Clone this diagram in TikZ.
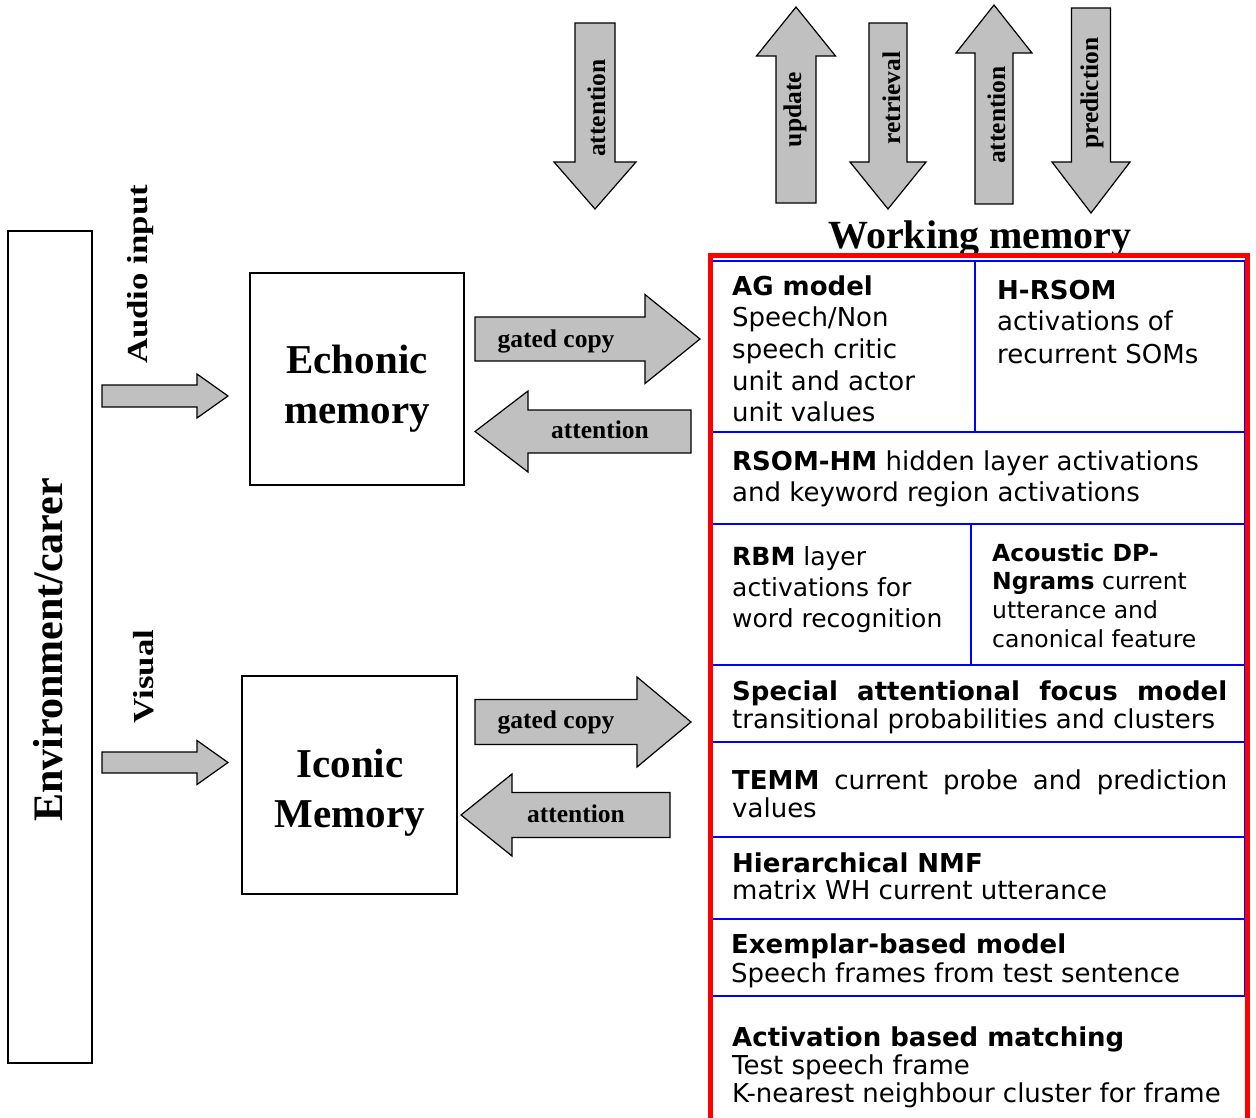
\documentclass[tikz,border=0pt]{standalone}
\usepackage{fontspec}
\usepackage{graphicx}
\setmainfont{Liberation Serif}
\newfontfamily\vd{DejaVu Sans}
\definecolor{arrowgray}{RGB}{192,192,192}
\definecolor{wmred}{RGB}{255,0,0}
\definecolor{wmblue}{RGB}{0,0,255}
\newcommand\fsz[2]{\fontsize{#1}{#2}\selectfont}
% lines of a working-memory entry: size, line distance, rows
\newcommand\wmlines[3]{\fsz{#1}{#2}\begin{tabular}[t]{@{}l@{}}#3\end{tabular}}
% block arrows: tail, head base, tip, centre line, shaft half width, head half width
\newcommand\harrow[6]{\draw[fat] (#1,#4-#5) -- (#2,#4-#5) -- (#2,#4-#6) -- (#3,#4) -- (#2,#4+#6) -- (#2,#4+#5) -- (#1,#4+#5) -- cycle;}
\newcommand\varrow[6]{\draw[fat] (#4-#5,#1) -- (#4-#5,#2) -- (#4-#6,#2) -- (#4,#3) -- (#4+#6,#2) -- (#4+#5,#2) -- (#4+#5,#1) -- cycle;}
\begin{document}
\begin{tikzpicture}[x=1pt,y=-1pt,
  fat/.style={draw=black, line width=1.2pt, fill=arrowgray, line join=miter},
  box/.style={draw=black, line width=1.5pt, inner sep=0pt},
  big/.style={font=\bfseries\fsz{41}{50}, inner sep=0pt, anchor=base},
  hlbl/.style={font=\bfseries\fsz{25.5}{30}, inner sep=0pt, anchor=base},
  vlbl/.style={hlbl, rotate=90},
  side/.style={font=\bfseries\fsz{29}{34}, inner sep=0pt, anchor=base, rotate=90},
  row/.style={draw=wmblue, line width=2pt},
  wm/.style={font=\vd, inner sep=0pt, anchor=base west}]
\useasboundingbox (0,0) rectangle (1256,1118);
\fill[white] (0,0) rectangle (1256,1118);

% environment column and sensory stores
\node[box, minimum width=84pt, minimum height=832pt] (env) at (50,647) {};
\node[font=\bfseries\fsz{42}{50}, inner sep=0pt, anchor=base, rotate=90] (envtxt) at (62,650) {Environment/carer};
\node[box, minimum width=214pt, minimum height=212pt] (echo) at (357,379) {};
\node[big] (echotxt) at (357,373) {\begin{tabular}[t]{@{}c@{}}Echonic\\memory\end{tabular}};
\node[box, minimum width=215pt, minimum height=218pt] (icon) at (349.5,785) {};
\node[big] (icontxt) at (350,777) {\begin{tabular}[t]{@{}c@{}}Iconic\\Memory\end{tabular}};

% inputs from the environment
\harrow{102}{197}{228}{396}{11}{22}
\node[side] (audio) at (147,274.5) {\scalebox{1.2}[1]{Audio input}};
\harrow{102}{197}{228}{762.5}{10.5}{22}
\node[side] (visual) at (153,676.5) {\scalebox{1.2}[1]{Visual}};

% exchanges with working memory
\harrow{475}{645}{700}{339}{22}{44.5}
\node[hlbl] (gc1) at (556,347) {gated copy};
\harrow{691}{528}{475}{431.5}{21.5}{40.5}
\node[hlbl] (at1) at (600,438) {attention};
\harrow{475}{637}{691}{722}{22.5}{45}
\node[hlbl] (gc2) at (556,728) {gated copy};
\harrow{670}{512}{461}{815}{22.5}{41}
\node[hlbl] (at2) at (576,822) {attention};

% top-down control arrows
\varrow{23}{162}{209}{595}{20}{41}
\node[vlbl] (va1) at (605,108) {attention};
\varrow{203}{56}{7}{796}{20}{39.5}
\node[vlbl] (vup) at (801,109.5) {update};
\varrow{23}{162}{209}{888}{19}{38}
\node[vlbl] (vre) at (900,98) {retrieval};
\varrow{204}{53}{5}{994}{19}{38}
\node[vlbl] (va2) at (1005,115) {attention};
\varrow{8}{162}{213}{1091}{19.5}{39}
\node[vlbl] (vpr) at (1098,93) {prediction};

% working memory
\node[font=\bfseries\fsz{40}{48}, inner sep=0pt, anchor=base] (wmtitle) at (980,249) {Working memory};
\draw[row] (712,261) rectangle (1245,432);
\draw[row] (975,261) -- (975,432);
\draw[row] (712,432) rectangle (1245,524);
\draw[row] (712,524) rectangle (1245,665);
\draw[row] (971,524) -- (971,665);
\draw[row] (712,665) rectangle (1245,742);
\draw[row] (712,742) rectangle (1245,837);
\draw[row] (712,837) rectangle (1245,919);
\draw[row] (712,919) rectangle (1245,996);
\draw[row] (712,996) -- (1245,996);

\node[wm] (ag) at (732,295) {\wmlines{26}{31.75}{\textbf{AG model}\\Speech/Non\\speech critic\\unit and actor\\unit values}};
\node[wm] (hrsom) at (997,299) {\wmlines{26}{32}{\textbf{H-RSOM}\\activations of\\recurrent SOMs}};
\node[wm] (rsomhm) at (732,470) {\wmlines{26}{31}{\textbf{RSOM-HM} hidden layer activations\\and keyword region activations}};
\node[wm] (rbm) at (732,565) {\wmlines{25}{31}{\textbf{RBM} layer\\activations for\\word recognition}};
\node[wm] (dp) at (992,561) {\wmlines{23.5}{28.7}{\textbf{Acoustic DP-}\\\textbf{Ngrams} current\\utterance and\\canonical feature}};
\node[wm] (saf) at (732,700) {\wmlines{26}{28}{\makebox[495pt][s]{\textbf{Special attentional focus model}}\\transitional probabilities and clusters}};
\node[wm] (temm) at (732,789) {\wmlines{26}{28}{\makebox[495pt][s]{\textbf{TEMM} current probe and prediction}\\values}};
\node[wm] (nmf) at (732,872) {\wmlines{26}{27}{\textbf{Hierarchical NMF}\\matrix WH current utterance}};
\node[wm] (exm) at (731,953) {\wmlines{26}{29}{\textbf{Exemplar-based model}\\Speech frames from test sentence}};
\node[wm] (abm) at (732,1046) {\wmlines{26}{28}{\textbf{Activation based matching}\\Test speech frame\\K-nearest neighbour cluster for frame}};

\draw[wmred, line width=5pt] (710,1130) -- (710,256) -- (1247,256) -- (1247,1130);
\end{tikzpicture}
\end{document}
